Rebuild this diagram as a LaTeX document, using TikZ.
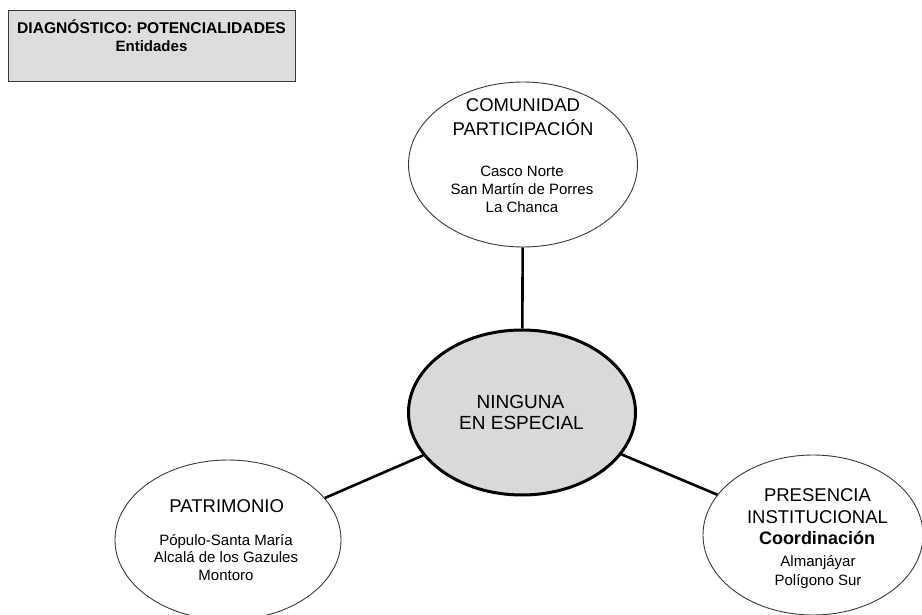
\documentclass[tikz,border=0pt]{standalone}
\usepackage{fontspec}
\setmainfont{Liberation Sans}
\usetikzlibrary{shapes.geometric}

\definecolor{boxgray}{HTML}{DDDDDD}
\definecolor{hubgray}{HTML}{D9D9D9}
\definecolor{rimgray}{HTML}{3A3A3A}

\tikzset{
  outer/.style={ellipse, draw=rimgray, line width=0.9pt, fill=white, inner sep=0pt},
  hub/.style={ellipse, draw=black, line width=3pt, fill=hubgray, inner sep=0pt},
  link/.style={line width=2.6pt, draw=black},
  head/.style={anchor=base, inner sep=0pt, font=\fontsize{18.5}{20}\selectfont},
  headb/.style={anchor=base, inner sep=0pt, font=\fontsize{18}{20}\selectfont\bfseries},
  place/.style={anchor=base, inner sep=0pt, font=\fontsize{15}{17}\selectfont},
  ttl/.style={anchor=base, inner sep=0pt, font=\fontsize{15.6}{17}\selectfont\bfseries},
}

\begin{document}
\begin{tikzpicture}[x=1pt, y=-1pt]
  \useasboundingbox (0,0) rectangle (922,615);
  \clip (0,0) rectangle (922,615);
  \fill[white] (0,0) rectangle (922,615);

  % title panel
  \node[draw=rimgray, line width=0.9pt, fill=boxgray, minimum width=287pt,
        minimum height=71pt, inner sep=0pt] (panel) at (151.5,46) {};
  \node[ttl] (panel-l1) at (151.5,33.3) {DIAGNÓSTICO: POTENCIALIDADES};
  \node[ttl, font=\fontsize{15}{17}\selectfont\bfseries] (panel-l2) at (151.5,51.7) {Entidades};

  % ellipses
  \node[outer, minimum width=229pt, minimum height=165pt] (com) at (523,164.5) {};
  \node[hub,   minimum width=227pt, minimum height=165pt] (hub) at (522,412.5) {};
  \node[outer, minimum width=226pt, minimum height=160pt] (pat) at (228,540) {};
  \node[outer, minimum width=220pt, minimum height=160pt] (pre) at (813,535) {};

  % connectors
  \draw[link] (com) -- (hub);
  \draw[link] (pat) -- (hub);
  \draw[link] (pre) -- (hub);

  % comunidad
  \node[head]  (com-1) at (523,111.7) {COMUNIDAD};
  \node[head]  (com-2) at (523,135.7) {PARTICIPACIÓN};
  \node[place] (com-3) at (522,176.5) {Casco Norte};
  \node[place] (com-4) at (522,194.3) {San Martín de Porres};
  \node[place] (com-5) at (522,212.3) {La Chanca};

  % hub
  \node[head, font=\fontsize{19}{21}\selectfont] (hub-1) at (520.5,408.8) {NINGUNA};
  \node[head, font=\fontsize{19}{21}\selectfont] (hub-2) at (521.5,429.8) {EN ESPECIAL};

  % patrimonio
  \node[head]  (pat-1) at (226.7,512.6) {PATRIMONIO};
  \node[place] (pat-2) at (226,545.6) {Pópulo-Santa María};
  \node[place] (pat-3) at (226,562.6) {Alcalá de los Gazules};
  \node[place] (pat-4) at (226,580.4) {Montoro};

  % presencia institucional
  \node[head]  (pre-1) at (817.5,501.6) {PRESENCIA};
  \node[head]  (pre-2) at (817.5,523.6) {INSTITUCIONAL};
  \node[headb] (pre-3) at (817,544.6) {Coordinación};
  \node[place] (pre-4) at (818,566) {Almanjáyar};
  \node[place] (pre-5) at (818,585.7) {Polígono Sur};
\end{tikzpicture}
\end{document}
